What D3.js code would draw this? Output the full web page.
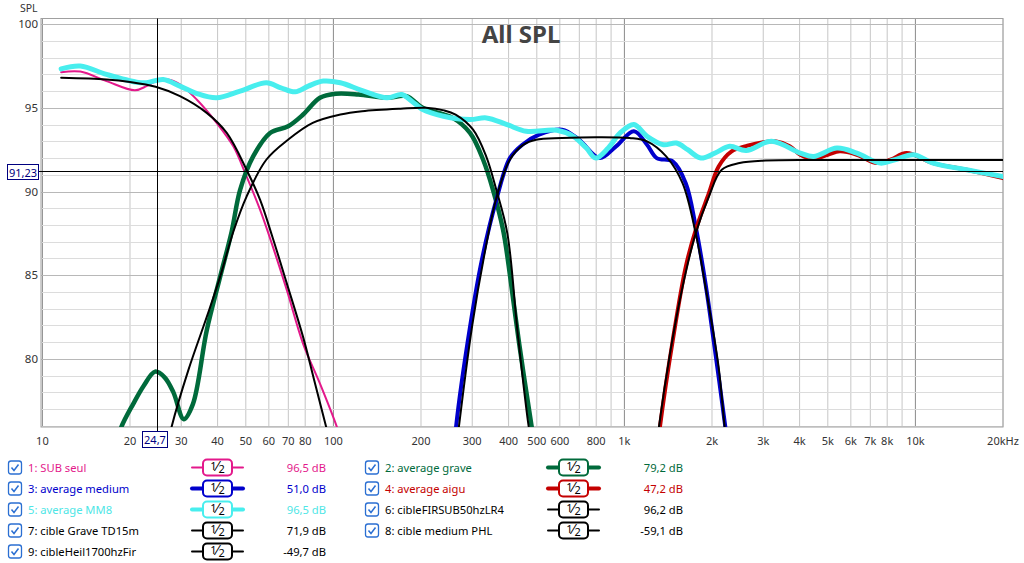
<!DOCTYPE html>
<html>
<head>
<meta charset="utf-8">
<script src="https://cdn.jsdelivr.net/npm/d3@7"></script>
<style>
  body { margin: 0; background: #fff; }
  svg { display: block; font-family: "Noto Sans", "Open Sans", sans-serif; }
</style>
</head>
<body>
<svg id="chart" width="1024" height="563"></svg>
<script>
// [frequency Hz, SPL dB]
const subSeul = [[11.6, 97.13], [13.5, 97.17], [16.6, 96.6], [20.8, 96.05], [22.8, 96.3], [24.4, 96.55], [27, 96.7], [29.7, 96.4],
  [33.9, 95.5], [39.7, 94.1], [45.3, 92.7], [50.3, 90.9], [56, 88.9], [61.4, 86.9], [69.2, 84.1], [78.7, 80.9], [90, 78.5],
  [102.7, 75.95], [106, 75.2]]
const averageGrave = [[18.2, 75.2], [18.7, 75.95], [20.5, 77.3], [22.3, 78.4], [24.4, 79.24], [26.3, 78.9], [28.2, 78.0],
  [30.6, 76.4], [32.9, 77.3], [36.7, 81.7], [40.8, 84.9], [44.7, 87.6], [47.8, 90.1], [53, 92.1], [60.6, 93.5], [69.9, 93.9],
  [78.7, 94.6], [89.9, 95.6], [101.9, 95.84], [121.8, 95.8], [152.9, 95.6], [178.3, 95.7], [202.7, 95.0], [257, 94.4],
  [294.7, 93.5], [327, 91.9], [353.5, 90.1], [383, 87.7], [400, 85.6], [435, 80.9], [480, 75.95], [490, 75.0]]
const averageMedium = [[262, 75.2], [264, 75.95], [294.7, 81.9], [323.6, 85.9], [363, 89.5], [404, 92.0], [446, 92.8],
  [509, 93.4], [611, 93.7], [698, 93.1], [823, 92.0], [936, 92.7], [1078, 93.6], [1196, 92.8], [1292, 92.0], [1466, 91.8],
  [1625, 90.5], [1758, 87.9], [1900, 84.5], [2056, 80.3], [2222, 75.95], [2250, 75.2]]
const averageAigu = [[1310, 75.2], [1325, 75.95], [1466, 81.1], [1625, 85.5], [1758, 87.7], [1951, 89.9], [2108, 91.5],
  [2336, 92.4], [2647, 92.74], [3000, 92.95], [3300, 93.0], [3700, 92.7], [4021, 92.2], [4468, 91.95], [5000, 92.2],
  [5500, 92.4], [6292, 92.2], [7380, 91.7], [8200, 91.9], [9320, 92.3], [11500, 91.7], [15000, 91.3], [20000, 90.8]]
const averageMM8 = [[11.6, 97.33], [13.5, 97.5], [16.6, 97.0], [21.1, 96.53], [22.8, 96.5], [26, 96.7], [29.7, 96.3],
  [34, 95.85], [39.7, 95.6], [47.8, 96.0], [58.8, 96.5], [66, 96.2], [73.9, 95.96], [82, 96.3], [92.3, 96.6], [105.7, 96.5],
  [125, 96.05], [152.9, 95.6], [171.6, 95.8], [186, 95.4], [202.7, 94.9], [239, 94.5], [294.7, 94.3], [335.6, 94.4],
  [395, 94.0], [460, 93.6], [586, 93.66], [667, 93.3], [740, 92.6], [797, 92.0], [880, 92.6], [967, 93.5], [1078, 94.0],
  [1196, 93.3], [1362, 92.8], [1509, 92.9], [1650, 92.5], [1830, 92.0], [2050, 92.3], [2300, 92.7], [2620, 92.45],
  [3200, 93.0], [4021, 92.3], [4468, 92.1], [5377, 92.6], [6292, 92.3], [7575, 91.7], [8500, 91.9], [9860, 92.2],
  [11500, 91.7], [15000, 91.3], [20000, 90.9]]
const cibleFirSub = [[11.6, 96.8], [16.6, 96.7], [20, 96.55], [24.5, 96.26], [29.7, 95.7], [36.7, 94.7], [43, 93.5],
  [50.3, 91.3], [56, 89.5], [61.7, 87.3], [69.2, 84.5], [78.7, 81.3], [86, 78.7], [94.4, 75.95], [97, 75.2]]
const cibleGrave = [[27.2, 75.2], [27.8, 75.95], [31.7, 79.3], [36.7, 82.5], [40.8, 84.9], [45.3, 87.6], [50.3, 89.7],
  [58.8, 91.9], [69.9, 93.1], [84.9, 94.1], [105.7, 94.6], [125.5, 94.8], [170, 94.95], [208, 95.0], [240, 94.85],
  [263, 94.6], [302, 93.7], [335, 92.1], [363, 90.1], [396, 87.5], [430, 81.5], [469, 75.95], [478, 75.2]]
const cibleMedium = [[267, 75.2], [270, 75.95], [300, 82], [330, 86.2], [363, 89.6], [404, 91.9], [450, 92.8], [497, 93.1],
  [611, 93.2], [800, 93.25], [1041, 93.2], [1196, 93.0], [1392, 92.1], [1584, 90.5], [1758, 87.5], [1900, 84.3],
  [2108, 79.5], [2210, 75.95], [2240, 75.2]]
const cibleHeil = [[1300, 75.2], [1315, 75.95], [1434, 80.3], [1584, 84.3], [1758, 87.5], [1951, 89.7], [2160, 91.3],
  [2487, 91.7], [3054, 91.85], [5000, 91.88], [20000, 91.88]]

const seriesNames = ['1: SUB seul', '2: average grave', '3: average medium', '4: average aigu', '5: average MM8',
  '6: cibleFIRSUB50hzLR4', '7: cible Grave TD15m', '8: cible medium PHL', '9: cibleHeil1700hzFir']
const seriesValues = ['96,5 dB', '79,2 dB', '51,0 dB', '47,2 dB', '96,5 dB', '96,2 dB', '71,9 dB', '-59,1 dB', '-49,7 dB']
const xTicks = [10, 20, 30, 40, 50, 60, 70, 80, 100, 200, 300, 400, 500, 600, 800, 1000, 2000, 3000, 4000, 5000, 6000,
  7000, 8000, 10000, 20000]
const xTickLabels = ['10', '20', '30', '40', '50', '60', '70', '80', '100', '200', '300', '400', '500', '600', '800', '1k',
  '2k', '3k', '4k', '5k', '6k', '7k', '8k', '10k', '20kHz']
const yTicks = [80, 85, 90, 95, 100]
const cursorFreq = 24.7
const cursorSpl = 91.23

const series = [subSeul, averageGrave, averageMedium, averageAigu, averageMM8, cibleFirSub, cibleGrave, cibleMedium, cibleHeil]
const COLORS = ['#e3198b', '#006a3b', '#0000cc', '#c40000', '#48eeee', '#000', '#000', '#000', '#000']
const TEXT_COLORS = ['#e3198b', '#006a3b', '#0000cc', '#c40000', '#4ee6e6', '#000', '#000', '#000', '#000']
const WIDTHS = [2, 4.5, 4, 4, 5, 2, 2, 2, 2]
const FONT_SIZE = 11

const P = {left: 41, right: 1003, top: 18.5, bottom: 427}
const svg = d3.select('#chart')

const x = d3.scaleLog().domain([9.89, 20000]).range([P.left, P.right])
const y = d3.scaleLinear().domain([75.93, 100.34]).range([P.bottom, P.top])

// grid
const vGrid = []
;[10, 100, 1000, 10000].forEach(dec => d3.range(1, 10).forEach(m => { if (m * dec <= 20000) vGrid.push([m * dec, m === 1]) }))
svg.append('g').selectAll('line').data(vGrid).enter().append('line')
  .attr('x1', d => x(d[0])).attr('x2', d => x(d[0]))
  .attr('y1', P.top).attr('y2', P.bottom)
  .attr('stroke', d => d[1] ? '#8a8a8a' : '#c6c6c6').attr('stroke-width', 1)

svg.append('g').selectAll('line').data(d3.range(76, 101)).enter().append('line')
  .attr('x1', P.left).attr('x2', P.right)
  .attr('y1', d => Math.round(y(d)) + 0.5).attr('y2', d => Math.round(y(d)) + 0.5)
  .attr('stroke', d => d % 5 === 0 ? '#b8b8b8' : '#dcdcdc').attr('stroke-width', 1)

svg.append('rect')
  .attr('x', P.left).attr('y', P.top).attr('width', P.right - P.left).attr('height', P.bottom - P.top)
  .attr('fill', 'none').attr('stroke', '#a0a0a0')

// title
svg.append('text').attr('x', 521).attr('y', 43).attr('text-anchor', 'middle')
  .attr('font-size', 24).attr('font-weight', 'bold').attr('fill', '#444').text('All SPL')

// curves
svg.append('clipPath').attr('id', 'plotClip').append('rect')
  .attr('x', P.left).attr('y', P.top).attr('width', P.right - P.left).attr('height', P.bottom - P.top)

const line = d3.line().x(d => x(d[0])).y(d => y(d[1])).curve(d3.curveCatmullRom.alpha(0.5))
svg.append('g').attr('clip-path', 'url(#plotClip)')
  .selectAll('path').data(series).enter().append('path')
  .attr('d', line)
  .attr('fill', 'none')
  .attr('stroke', (d, i) => COLORS[i])
  .attr('stroke-width', (d, i) => WIDTHS[i])
  .attr('stroke-linejoin', 'round').attr('stroke-linecap', 'round')

// cursor lines
const cx = Math.round(x(cursorFreq)) + 0.5
const cy = Math.round(y(cursorSpl)) + 0.5
svg.append('line').attr('x1', cx).attr('x2', cx).attr('y1', P.top).attr('y2', 431).attr('stroke', '#000')
svg.append('line').attr('x1', 38).attr('x2', P.right).attr('y1', cy).attr('y2', cy).attr('stroke', '#000')

// axes labels
svg.append('g').selectAll('text').data(xTicks).enter().append('text')
  .attr('x', d => x(d)).attr('y', 445).attr('text-anchor', 'middle')
  .attr('font-size', FONT_SIZE).attr('fill', '#333')
  .text((d, i) => xTickLabels[i])

svg.append('g').selectAll('text').data(yTicks).enter().append('text')
  .attr('x', 38).attr('y', d => y(d) + 4).attr('text-anchor', 'end')
  .attr('font-size', 11.5).attr('fill', '#333').text(d => d)

svg.append('text').attr('x', 20).attr('y', 12).attr('font-size', 10.5).attr('fill', '#333').text('SPL')

// cursor value boxes
svg.append('rect').attr('x', 142.5).attr('y', 431.5).attr('width', 25).attr('height', 16)
  .attr('fill', '#fff').attr('stroke', '#000080')
svg.append('text').attr('x', 155).attr('y', 444).attr('text-anchor', 'middle')
  .attr('font-size', FONT_SIZE).attr('fill', '#000080').text(String(cursorFreq).replace('.', ','))
svg.append('rect').attr('x', 7.5).attr('y', 164.5).attr('width', 31).attr('height', 15)
  .attr('fill', '#fff').attr('stroke', '#000080')
svg.append('text').attr('x', 23).attr('y', 176.5).attr('text-anchor', 'middle')
  .attr('font-size', FONT_SIZE).attr('fill', '#000080').text(String(cursorSpl).replace('.', ','))

// legend
const legendPos = seriesNames.map((n, i) => ({
  col: i % 2,
  row: Math.floor(i / 2)
}))
const COL = [
  {box: 8, text: 28, l1: 192, l2: 243, s1: 203, value: 326},
  {box: 365, text: 385, l1: 548, l2: 599, s1: 559, value: 683}
]

const legend = svg.append('g').selectAll('g').data(seriesNames).enter().append('g')
  .attr('transform', (d, i) => `translate(0, ${467 + legendPos[i].row * 21})`)

legend.each(function (name, i) {
  const g = d3.select(this)
  const c = COL[legendPos[i].col]
  g.append('rect').attr('x', c.box + 0.5).attr('y', -6).attr('width', 13).attr('height', 13).attr('rx', 2.5)
    .attr('fill', '#fff').attr('stroke', '#2b6fd2').attr('stroke-width', 1.3)
  g.append('path').attr('d', `M${c.box + 3.5},0.5 L${c.box + 6},3.5 L${c.box + 10.5},-2.5`)
    .attr('fill', 'none').attr('stroke', '#2b6fd2').attr('stroke-width', 1.5)
  g.append('text').attr('x', c.text).attr('y', 4.5).attr('font-size', FONT_SIZE + 0.2).attr('fill', TEXT_COLORS[i]).text(name)

  g.append('line').attr('x1', c.l1).attr('x2', c.l2).attr('y1', 0.5).attr('y2', 0.5)
    .attr('stroke', COLORS[i]).attr('stroke-width', WIDTHS[i] > 2 ? 4 : 2).attr('stroke-linecap', 'round')
  g.append('rect').attr('x', c.s1).attr('y', -7.5).attr('width', 29).attr('height', 16).attr('rx', 4)
    .attr('fill', '#fff').attr('stroke', COLORS[i]).attr('stroke-width', 2)
  const t = g.append('text').attr('x', c.s1 + 14.5).attr('y', 4).attr('text-anchor', 'middle')
    .attr('font-size', 11).attr('fill', '#000')
  t.append('tspan').attr('dy', -1).text('1')
  t.append('tspan').attr('font-size', 14).attr('dy', 1).text('⁄')
  t.append('tspan').attr('dy', 2).text('2')

  g.append('text').attr('x', c.value).attr('y', 4.5).attr('text-anchor', 'end')
    .attr('font-size', FONT_SIZE + 0.2).attr('fill', TEXT_COLORS[i]).text(seriesValues[i])
})
</script>
</body>
</html>
